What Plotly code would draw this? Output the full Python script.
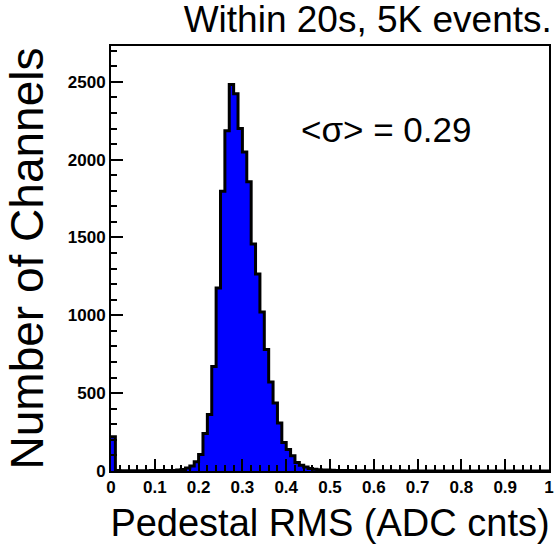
import numpy as np
import plotly.graph_objects as go

# ---- data ----
x_min, x_max, n_bins = 0.0, 1.0, 100
counts = [
    220, 3, 2, 2, 2, 2, 2, 2, 2, 3,      # 0.00-0.09
    3, 3, 3, 3, 4, 6, 10, 19, 32, 60,    # 0.10-0.19
    106, 241, 363, 671, 1175, 1797, 2185, 2482, 2424, 2200,  # 0.20-0.29
    2049, 1858, 1458, 1265, 1021, 780, 572, 437, 308, 183,   # 0.30-0.39
    138, 98, 54, 37, 26, 16, 12, 8, 7, 6,                    # 0.40-0.49
    5, 4, 4, 3, 3, 2, 2, 2, 1, 1,        # 0.50-0.59
    1, 1, 1, 1, 1, 0, 1, 0, 0, 1,        # 0.60-0.69
    0, 0, 0, 0, 0, 0, 0, 0, 0, 0,        # 0.70-0.79
    0, 0, 0, 0, 0, 0, 0, 0, 0, 0,        # 0.80-0.89
    0, 0, 0, 0, 0, 0, 0, 0, 0, 0,        # 0.90-0.99
]
title_text = "Within 20s, 5K events."
x_title = "Pedestal RMS (ADC cnts)"
y_title = "Number of Channels"
mean_label = "&lt;σ&gt; = 0.29"
y_max = 2730

# ---- derived ----
edges = np.linspace(x_min, x_max, n_bins + 1)
width = edges[1] - edges[0]
centers = edges[:-1] + width / 2
step_x = list(edges)
step_y = list(counts) + [counts[-1]]

FONT = "Liberation Sans, Arial, Helvetica, sans-serif"

fig = go.Figure()
fig.add_trace(go.Bar(
    x=centers, y=counts, width=width,
    marker=dict(color="#0000ff", line=dict(width=0)),
    showlegend=False, hoverinfo="skip",
))
fig.add_trace(go.Scatter(
    x=step_x, y=step_y, mode="lines",
    line=dict(color="black", width=3, shape="hv"),
    showlegend=False, hoverinfo="skip",
))

fig.add_annotation(
    x=0.63, y=2193, xref="x", yref="y",
    text=mean_label, showarrow=False,
    font=dict(family=FONT, size=35, color="black"),
    xanchor="center", yanchor="middle",
)

axis_common = dict(
    showline=True, linecolor="black", linewidth=2, mirror=True,
    ticks="inside", tickcolor="black", tickwidth=2,
    showgrid=False, zeroline=False,
    tickfont=dict(family=FONT, size=17, color="black", weight="bold"),
)

fig.update_xaxes(
    range=[x_min, x_max], dtick=0.1, tick0=0, ticklen=12,
    minor=dict(dtick=0.02, ticklen=6, ticks="inside", tickcolor="black", tickwidth=2, showgrid=False),
    title=dict(text=x_title, font=dict(family=FONT, size=38, color="black"), standoff=13),
    **axis_common,
)
fig.update_yaxes(
    range=[0, y_max], dtick=500, tick0=0, ticklen=12,
    minor=dict(dtick=100, ticklen=6, ticks="inside", tickcolor="black", tickwidth=2, showgrid=False),
    title=dict(text=y_title, font=dict(family=FONT, size=46, color="black"), standoff=10),
    **axis_common,
)

fig.update_layout(
    width=554, height=550,
    margin=dict(l=111, r=5, t=46, b=79, autoexpand=False),
    paper_bgcolor="white", plot_bgcolor="white",
    bargap=0,
    title=dict(text=title_text, font=dict(family=FONT, size=37, color="black"),
               x=0.996, xanchor="right", xref="container",
               y=0.965, yanchor="middle", yref="container"),
)

fig.write_html(
    "out.html",
    config={"displayModeBar": False},
    post_script="document.body.style.margin='0px';document.body.style.padding='0px';",
)
